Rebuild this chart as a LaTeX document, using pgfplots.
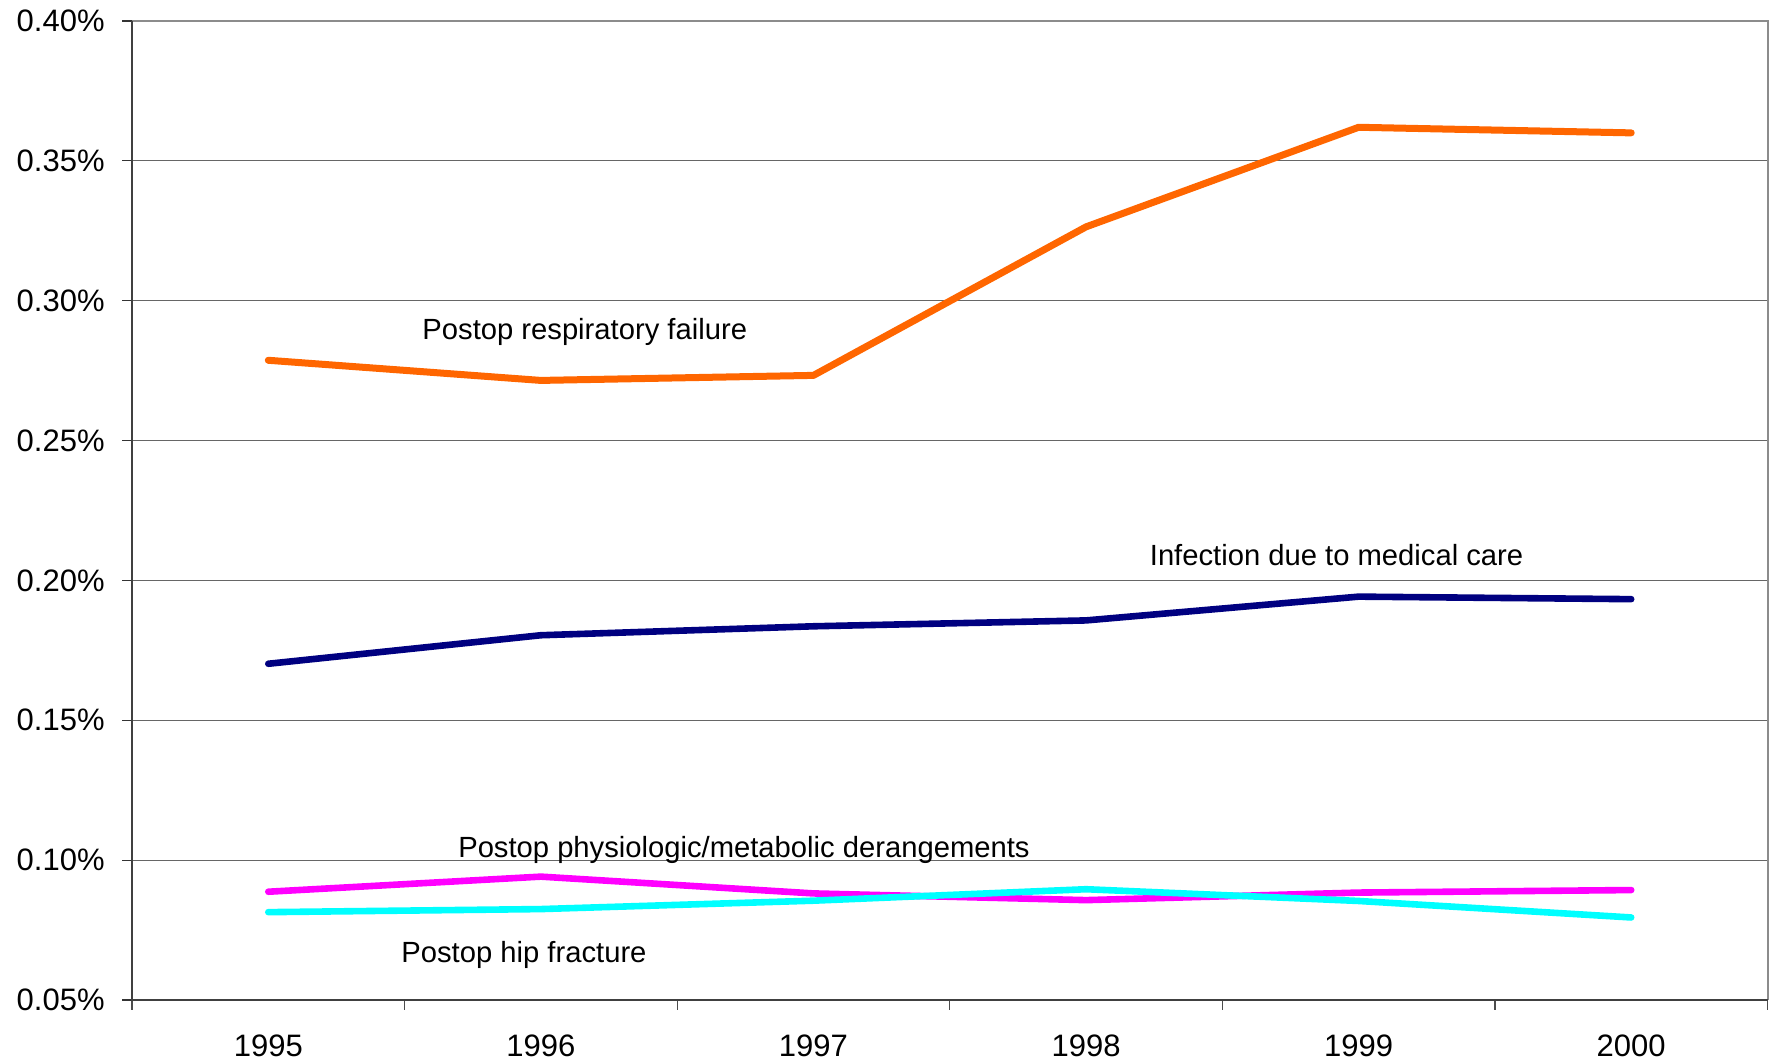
\documentclass[border=0pt]{standalone}
\usepackage{pgfplots}
\pgfplotsset{compat=1.18}
\usepackage{fontspec}
\setmainfont{Liberation Sans}
\definecolor{cOrange}{HTML}{FF6600}
\definecolor{cNavy}{HTML}{000080}
\definecolor{cMagenta}{HTML}{FF00FF}
\definecolor{cCyan}{HTML}{00FFFF}
\begin{document}
\begin{tikzpicture}
\useasboundingbox (-66pt,-31.5pt) rectangle (818.5pt,500pt);
\begin{axis}[
  at={(0pt,0pt)}, anchor=south west,
  scale only axis, width=817.75pt, height=489.5pt,
  xmin=1994.5, xmax=2000.5, ymin=0.05, ymax=0.40,
  clip=false,
  axis line style={draw=none},
  xtick={1995,1996,1997,1998,1999,2000},
  xticklabels={1995,1996,1997,1998,1999,2000},
  minor xtick={1994.5,1995.5,1996.5,1997.5,1998.5,1999.5,2000.5},
  ytick={0.05,0.10,0.15,0.20,0.25,0.30,0.35,0.40},
  yticklabels={0.05\%,0.10\%,0.15\%,0.20\%,0.25\%,0.30\%,0.35\%,0.40\%},
  tick pos=left,
  tick align=outside,
  major tick length=5pt,
  minor tick length=5pt,
  major x tick style={draw=none},
  minor x tick style={black!70, line width=0.6pt},
  major y tick style={black!80, line width=0.6pt},
  ymajorgrids,
  major grid style={black!60, line width=0.6pt},
  yticklabel style={anchor=east, inner sep=0pt, xshift=-8.5pt, font=\fontsize{15.5}{18}\selectfont},
  xticklabel style={anchor=north, inner sep=0pt, yshift=-12pt, font=\fontsize{15.5}{18}\selectfont},
]
\draw[black!45, line width=1pt] (rel axis cs:0,1) -- (rel axis cs:1,1) -- (rel axis cs:1,0);
\draw[black!75, line width=1pt] (rel axis cs:0,1) -- (rel axis cs:0,0) -- (rel axis cs:1,0);

\addplot[cOrange, line width=3.5pt, line cap=round, line join=round] coordinates {
 (1995,0.2787) (1996,0.2715) (1997,0.2733) (1998,0.3264) (1999,0.3620) (2000,0.3600)};
\addplot[cNavy, line width=3.3pt, line cap=round, line join=round] coordinates {
 (1995,0.1702) (1996,0.1804) (1997,0.1836) (1998,0.1857) (1999,0.1942) (2000,0.1933)};
\addplot[cMagenta, line width=3.3pt, line cap=round, line join=round] coordinates {
 (1995,0.0887) (1996,0.0941) (1997,0.0881) (1998,0.0857) (1999,0.0884) (2000,0.0893)};
\addplot[cCyan, line width=3.3pt, line cap=round, line join=round] coordinates {
 (1995,0.0814) (1996,0.0825) (1997,0.0855) (1998,0.0896) (1999,0.0854) (2000,0.0795)};

\node[anchor=base, inner sep=0pt, font=\fontsize{14.6}{17}\selectfont] at (axis cs:1996.161,0.2863) {Postop respiratory failure};
\node[anchor=base, inner sep=0pt, font=\fontsize{14.6}{17}\selectfont] at (axis cs:1998.919,0.2055) {Infection due to medical care};
\node[anchor=base, inner sep=0pt, font=\fontsize{14.6}{17}\selectfont] at (axis cs:1996.745,0.1009) {Postop physiologic/metabolic derangements};
\node[anchor=base, inner sep=0pt, font=\fontsize{14.6}{17}\selectfont] at (axis cs:1995.938,0.0633) {Postop hip fracture};
\end{axis}
\end{tikzpicture}
\end{document}
